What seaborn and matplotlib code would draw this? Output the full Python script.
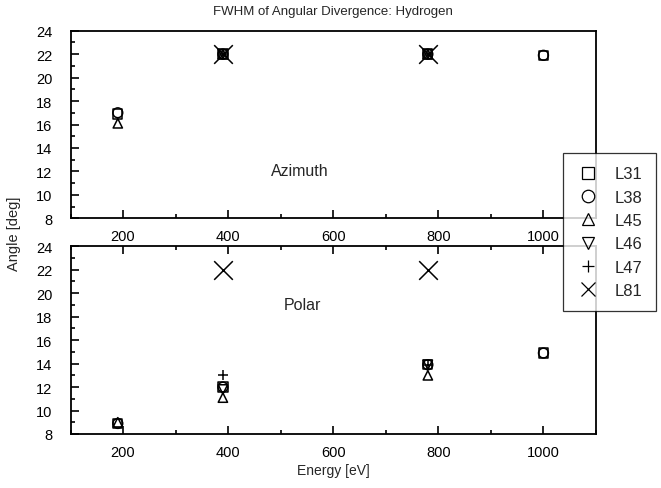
import numpy as np
import pandas as pd
import matplotlib
matplotlib.use("Agg")
import matplotlib.pyplot as plt
from matplotlib.lines import Line2D
from matplotlib.ticker import MultipleLocator
import seaborn as sns

sns.set_theme(style="white")
plt.rcParams["font.family"] = ["Liberation Sans", "DejaVu Sans"]

# Beam energies [eV]
energy = [190, 390, 780, 1000]

# FWHM of azimuthal divergence [deg] per layer (NaN = not measured)
azimuth = {
    "L31": [16.9, 22.0, 22.0, 21.9],
    "L38": [17.0, 22.0, 22.0, 21.9],
    "L45": [16.1, 22.0, 22.0, np.nan],
    "L46": [np.nan, 22.0, 22.0, np.nan],
    "L47": [np.nan, 22.0, 22.0, np.nan],
    "L81": [np.nan, 22.0, 22.0, np.nan],
}

# FWHM of polar divergence [deg] per layer
polar = {
    "L31": [8.9, 12.0, 13.9, 14.9],
    "L38": [8.9, 12.0, 13.9, 14.9],
    "L45": [9.0, 11.1, 13.0, np.nan],
    "L46": [np.nan, 11.8, 13.9, np.nan],
    "L47": [np.nan, 13.0, 13.9, np.nan],
    "L81": [np.nan, 22.0, 22.0, np.nan],
}

series = ["L31", "L38", "L45", "L46", "L47", "L81"]
marker_of = {"L31": "s", "L38": "o", "L45": "^", "L46": "v", "L47": "+", "L81": "x"}
size_of = {"L31": 45, "L38": 50, "L45": 45, "L46": 45, "L47": 45, "L81": 180}

W, H = 661, 489
fig = plt.figure(figsize=(W / 100, H / 100), dpi=100)
ax_top = fig.add_axes([70.5 / W, 1 - 219.3 / H, 525.5 / W, 187.6 / H])
ax_bot = fig.add_axes([70.5 / W, 1 - 435.0 / H, 525.5 / W, 187.7 / H])


def draw(ax, values):
    for name in series:
        df = pd.DataFrame({"Energy": energy, "Angle": values[name]}).dropna()
        m = marker_of[name]
        if m in ("+", "x"):
            sns.scatterplot(data=df, x="Energy", y="Angle", marker=m, s=size_of[name],
                            color="black", linewidth=1.1, ax=ax, legend=False)
        else:
            sns.scatterplot(data=df, x="Energy", y="Angle", marker=m, s=size_of[name],
                            facecolor="none", edgecolor="black", linewidth=1.1,
                            ax=ax, legend=False)


draw(ax_top, azimuth)
draw(ax_bot, polar)

for ax in (ax_top, ax_bot):
    ax.set_xlim(100, 1100)
    ax.set_ylim(8, 24)
    ax.xaxis.set_major_locator(MultipleLocator(200))
    ax.xaxis.set_minor_locator(MultipleLocator(100))
    ax.yaxis.set_major_locator(MultipleLocator(2))
    ax.yaxis.set_minor_locator(MultipleLocator(1))
    ax.tick_params(which="both", direction="in", color="black", width=1.2,
                   labelsize=10.5, labelcolor="black",
                   left=True, bottom=True, right=False, top=False)
    ax.tick_params(axis="x", which="both", pad=8)
    ax.tick_params(axis="y", which="both", pad=13)
    ax.tick_params(which="major", length=6)
    ax.tick_params(which="minor", length=3)
    for sp in ax.spines.values():
        sp.set_color("black")
        sp.set_linewidth(1.3)
    ax.set_xlabel("")
    ax.set_ylabel("")
    ax.set_xticks([200, 400, 600, 800, 1000])
    ax.set_xticklabels(["200", "400", "600", "800", "1000"])
    ax.set_yticks(list(range(8, 25, 2)))
    ax.set_yticklabels([str(v) for v in range(8, 25, 2)])

ax_bot.tick_params(which="both", top=True)

ax_top.text(536, 12.1, "Azimuth", ha="center", va="center", fontsize=11.5)
ax_bot.text(542, 19.0, "Polar", ha="center", va="center", fontsize=11.5)

fig.text(333 / W, 1 - 12 / H, "FWHM of Angular Divergence: Hydrogen",
         ha="center", va="center", fontsize=9.5)
fig.text(14 / W, 1 - 234 / H, "Angle [deg]", rotation=90,
         ha="center", va="center", fontsize=10.5)
fig.text(333 / W, 1 - 471 / H, "Energy [eV]", ha="center", va="center", fontsize=10)

handles = []
for name in series:
    m = marker_of[name]
    handles.append(Line2D([], [], linestyle="none", marker=m,
                          markersize=9 if m != "x" else 10,
                          markerfacecolor="none", markeredgecolor="black",
                          markeredgewidth=0.9, label=name))
leg = fig.legend(handles=handles, loc="upper left",
                 bbox_to_anchor=(563 / W, 1 - 154 / H), fontsize=12,
                 frameon=True, fancybox=False, borderpad=0.8,
                 labelspacing=0.5, handletextpad=0.9, handlelength=1.4,
                 borderaxespad=0)
leg.get_frame().set_edgecolor("black")
leg.get_frame().set_linewidth(0.9)

fig.savefig("out.png", dpi=100)
